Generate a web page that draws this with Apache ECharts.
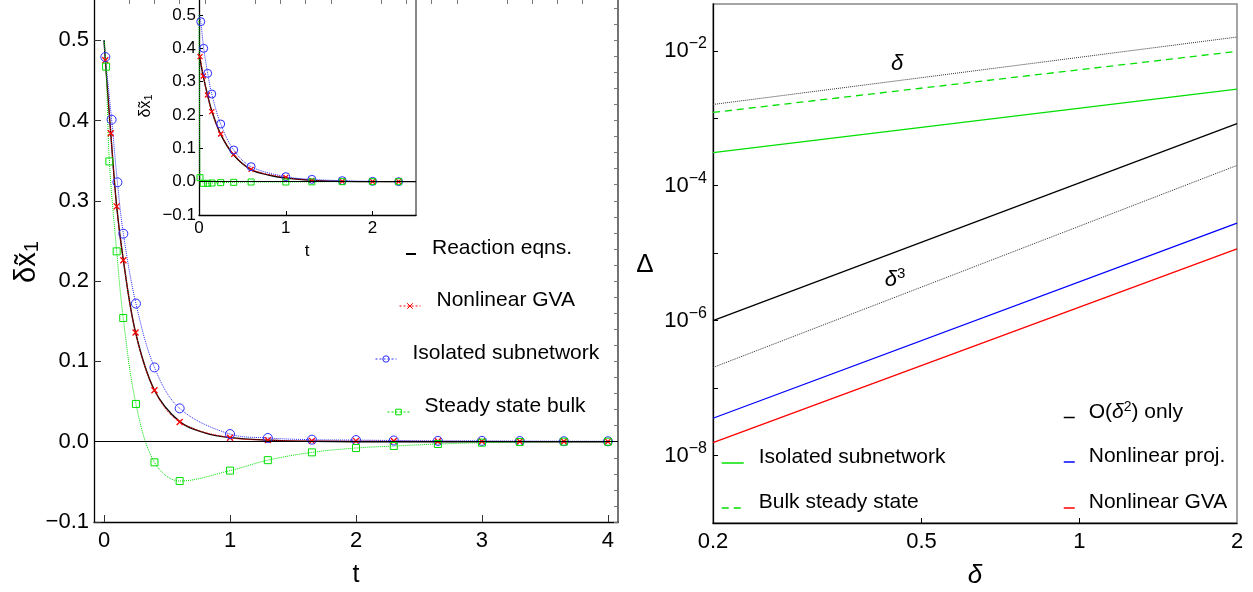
<!DOCTYPE html>
<html><head><meta charset="utf-8">
<script src="https://cdn.jsdelivr.net/npm/echarts@6/dist/echarts.min.js"></script>
<style>html,body{margin:0;padding:0;background:#fff}#c{width:1253px;height:592px}</style>
</head><body><div id="c"></div>
<script>
// ---------- Left panel (main) data ----------
const mainExactT = [0, 0.01, 0.053, 0.1, 0.153, 0.25, 0.4, 0.6, 0.8, 1.0, 1.3, 1.65, 2.0, 4.0];
const mainExactV = [0.5, 0.475, 0.384, 0.293, 0.226, 0.136, 0.064, 0.025, 0.011, 0.005, 0.002, 0.0005, 0, 0];
const mainGvaT = [0, 0.01, 0.053, 0.1, 0.153, 0.25, 0.4, 0.6, 1.0, 1.3, 1.65, 2.0, 2.3, 2.65, 3.0, 3.3, 3.65, 4.0];
const mainGvaV = [0.5, 0.475, 0.384, 0.293, 0.226, 0.136, 0.064, 0.0245, 0.005, 0.002, 0.001, 0.001, 0.0008, 0.0006, 0.0004, 0.0003, 0.0002, 0.0001];
const mainIsoT = [0, 0.01, 0.06, 0.106, 0.153, 0.253, 0.4, 0.6, 1.0, 1.3, 1.65, 2.0, 2.3, 2.65, 3.0, 3.3, 3.65, 4.0];
const mainIsoV = [0.5, 0.479, 0.401, 0.323, 0.259, 0.172, 0.0925, 0.0415, 0.0095, 0.0046, 0.0025, 0.002, 0.0015, 0.001, 0.001, 0.0008, 0.0006, 0.0005];
const mainSsT = [0, 0.016, 0.042, 0.1, 0.152, 0.253, 0.4, 0.6, 1.0, 1.3, 1.65, 2.0, 2.3, 2.65, 3.0, 3.3, 3.65, 4.0];
const mainSsV = [0.5, 0.467, 0.349, 0.237, 0.154, 0.047, -0.0257, -0.049, -0.036, -0.023, -0.0133, -0.0079, -0.0054, -0.0029, -0.0012, -0.0004, 0, 0];
const mainXTicks = [0, 1, 2, 3, 4];
const mainYTicks = [-0.1, 0, 0.1, 0.2, 0.3, 0.4, 0.5];

// ---------- Inset data ----------
const insExactT = [0, 0.05, 0.1, 0.15, 0.25, 0.4, 0.6, 0.8, 1.0, 1.3, 1.65, 2.0, 2.5];
const insExactV = [0.385, 0.315, 0.258, 0.21, 0.142, 0.08, 0.036, 0.02, 0.011, 0.004, 0.001, 0, 0];
const insGvaT = [0, 0.012, 0.05, 0.097, 0.147, 0.25, 0.4, 0.6, 1.0, 1.3, 1.65, 2.0, 2.3];
const insGvaV = [0.385, 0.375, 0.317, 0.26, 0.21, 0.143, 0.082, 0.037, 0.013, 0.004, 0.001, 0.0, 0.0];
const insIsoT = [0, 0.02, 0.054, 0.1, 0.147, 0.25, 0.4, 0.6, 1.0, 1.3, 1.65, 2.0, 2.3];
const insIsoV = [0.5, 0.48, 0.40, 0.325, 0.263, 0.173, 0.095, 0.045, 0.015, 0.007, 0.003, 0.001, 0.0];
const insSsT = [0, 0.012, 0.05, 0.1, 0.15, 0.25, 0.4, 0.6, 1.0, 1.3, 1.65, 2.0, 2.3];
const insSsV = [0.5, 0.012, -0.005, -0.005, -0.004, -0.003, -0.002, -0.001, -0.001, -0.0005, 0, 0, 0];
const insXTicks = [0, 1, 2];
const insYTicks = [-0.1, 0, 0.1, 0.2, 0.3, 0.4, 0.5];

// ---------- Right panel data (log-log, straight lines) ----------
const deltaEnds = [0.2, 2];
const refLinear = [0.0016, 0.016];     // "δ"
const bulkSteady = [1.22e-3, 9.8e-3];
const isoSub = [3.09e-4, 2.7e-3];
const o2Only = [1.0e-6, 8.3e-4];
const refCubic = [2.02e-7, 2.0e-4];    // "δ³"
const nlProj = [3.57e-8, 2.78e-5];
const nlGva = [1.55e-8, 1.16e-5];
const rightXTicks = [0.2, 0.5, 1, 2];
const rightYLabels = [1e-8, 1e-6, 1e-4, 1e-2];
const rightYTicks = [1e-9, 1e-8, 1e-7, 1e-6, 1e-5, 1e-4, 1e-3, 1e-2];

// ---------- helpers ----------
const FONT = 'Liberation Sans, Arial, sans-serif';
const RED = '#ff0000', BLUE = '#2a2aff', GREEN = '#00e000';
function build(ts, vs) { return ts.map((t, i) => t === 0 ? { value: [t, vs[i]], symbol: 'none' } : [t, vs[i]]); }
function pair(xs, ys) { return xs.map((x, i) => [x, ys[i]]); }
const fmtLin = v => (v < -1e-9 ? '\u2212' : '') + Math.abs(v).toFixed(1);
const minorMainX = []; for (let i = 1; i < 20; i++) if (i % 5) minorMainX.push(+(i * 0.2).toFixed(2));
const minorMainY = []; for (let i = -5; i <= 27; i++) if (i % 5) minorMainY.push(+(i * 0.02).toFixed(2));
const X_PATH = 'path://M0,0L10,10M10,0L0,10';
const SM = 0.35;

const zeroLine = { silent: true, symbol: 'none', label: { show: false }, lineStyle: { color: '#000', type: 'solid', width: 1 }, data: [{ yAxis: 0 }] };

function lg(name, x, iconY, w, gap, h, lineOnly, lw) {
  const o = {
    data: [name], left: x, top: iconY - 14, itemWidth: w, itemHeight: h || 10, padding: 0, selectedMode: false,
    textStyle: {
      fontSize: 21, fontFamily: FONT, color: '#000', padding: [0, 0, 11, gap - 5],
      rich: { n: { fontSize: 21, fontFamily: FONT }, i: { fontSize: 21, fontFamily: FONT, fontStyle: 'italic' }, s: { fontSize: 14, fontFamily: FONT, padding: [0, 0, 10, 0] } }
    },
    formatter: nm => nm === 'O(δ²) only' ? '{n|O(}{i|δ}{s|2}{n|) only}' : nm
  };
  if (lineOnly) { o.itemStyle = { opacity: 0 }; o.lineStyle = { width: lw || 1.5 }; }
  else { o.lineStyle = { width: 1, type: [2, 2] }; o.itemStyle = { borderWidth: 1 }; }
  return o;
}

const chart = echarts.init(document.getElementById('c'));
const option = {
  animation: false,
  backgroundColor: '#fff',
  grid: [
    { left: 94, top: 0, width: 524, height: 522 },
    { left: 199, top: 0, width: 217, height: 215 },
    { left: 713, top: 4, width: 524, height: 519, show: true, borderColor: '#888', borderWidth: 1.5 }
  ],
  xAxis: [
    { gridIndex: 0, type: 'value', min: -0.08, max: 4.08, splitLine: { show: false },
      axisLine: { show: true, onZero: false, lineStyle: { color: '#000', width: 1.3 } },
      axisTick: { show: true, inside: true, length: 7, customValues: mainXTicks, lineStyle: { color: '#333' } },
      axisLabel: { customValues: mainXTicks, fontSize: 22, fontFamily: FONT, color: '#000', margin: 8 } },
    { gridIndex: 0, type: 'value', min: -0.08, max: 4.08, splitLine: { show: false },
      axisLine: { show: false, onZero: false }, axisLabel: { show: false },
      axisTick: { show: true, inside: true, length: 4, customValues: minorMainX, lineStyle: { color: '#777' } } },
    { gridIndex: 1, type: 'value', min: 0, max: 2.5, splitLine: { show: false },
      axisLine: { show: true, onZero: false, lineStyle: { color: '#000', width: 1.3 } },
      axisTick: { show: true, inside: true, length: 4, customValues: insXTicks },
      axisLabel: { customValues: insXTicks, fontSize: 17, fontFamily: FONT, color: '#000', margin: 5 } },
    { gridIndex: 2, type: 'log', logBase: 10, min: 0.2, max: 2, splitLine: { show: false },
      axisLine: { show: true, onZero: false, lineStyle: { color: '#000', width: 1.3 } },
      axisTick: { show: true, inside: true, length: 5, customValues: [0.5, 1] },
      axisLabel: { customValues: rightXTicks, fontSize: 22, fontFamily: FONT, color: '#000', margin: 8,
        formatter: v => String(Math.round(v * 10) / 10) } }
  ],
  yAxis: [
    { gridIndex: 0, type: 'value', min: -0.1, max: 0.55, splitLine: { show: false },
      axisLine: { show: true, onZero: false, lineStyle: { color: '#000', width: 1.3 } },
      axisTick: { show: true, inside: true, length: 7, customValues: mainYTicks, lineStyle: { color: '#333' } },
      axisLabel: { customValues: mainYTicks, fontSize: 22, fontFamily: FONT, color: '#000', margin: 5, formatter: fmtLin } },
    { gridIndex: 0, type: 'value', min: -0.1, max: 0.55, splitLine: { show: false },
      axisLine: { show: false, onZero: false }, axisLabel: { show: false },
      axisTick: { show: true, inside: true, length: 4, customValues: minorMainY, lineStyle: { color: '#777' } } },
    { gridIndex: 0, type: 'value', position: 'right', min: -0.1, max: 0.55, splitLine: { show: false },
      axisLine: { show: true, onZero: false, lineStyle: { color: '#666', width: 1.8 } }, axisLabel: { show: false },
      axisTick: { show: true, inside: true, length: 4, customValues: mainYTicks.concat(minorMainY), lineStyle: { color: '#777' } } },
    { gridIndex: 1, type: 'value', min: -0.1, max: 0.545, splitLine: { show: false },
      axisLine: { show: true, onZero: false, lineStyle: { color: '#000', width: 1.3 } },
      axisTick: { show: true, inside: true, length: 4, customValues: insYTicks },
      axisLabel: { customValues: insYTicks, fontSize: 17, fontFamily: FONT, color: '#000', margin: 3, formatter: fmtLin } },
    { gridIndex: 1, type: 'value', position: 'right', min: -0.1, max: 0.545, splitLine: { show: false },
      axisLine: { show: true, onZero: false, lineStyle: { color: '#888', width: 2 } }, axisLabel: { show: false }, axisTick: { show: false } },
    { gridIndex: 2, type: 'log', logBase: 10, min: 1e-9, max: 0.0494, splitLine: { show: false },
      axisLine: { show: true, onZero: false, lineStyle: { color: '#000', width: 1.3 } },
      axisTick: { show: true, inside: true, length: 5, customValues: rightYTicks },
      axisLabel: { customValues: rightYLabels, color: '#000', margin: 6,
        formatter: v => '{b|10}{s|\u2212' + Math.abs(Math.round(Math.log10(v))) + '}',
        rich: { b: { fontSize: 22, fontFamily: FONT }, s: { fontSize: 16, fontFamily: FONT, padding: [0, 0, 14, 0] } } } }
  ],
  legend: [
    lg('Reaction eqns.', 405, 252, 10, 16, 10, true, 2),
    lg('Nonlinear GVA', 399, 304, 21, 16, 7),
    lg('Isolated subnetwork', 375, 357, 21, 16, 8),
    lg('Steady state bulk', 387, 410, 22, 15, 7),
    lg('O(δ²) only', 1063, 414, 11, 14, 10, true),
    lg('Nonlinear proj.', 1063, 460, 11, 14, 10, true),
    lg('Nonlinear GVA ', 1063, 506, 11, 14, 10, true),
    lg('Isolated subnetwork ', 721, 461, 22, 15, 10, true),
    lg('Bulk steady state', 721, 506, 22, 15, 10, true)
  ],
  series: [
    // main
    { name: 'Reaction eqns.', type: 'line', xAxisIndex: 0, yAxisIndex: 0, data: build(mainExactT, mainExactV), smooth: SM,
      symbol: 'none', lineStyle: { color: '#000', width: 1.4 }, itemStyle: { color: '#000' }, markLine: zeroLine, z: 2 },
    { name: 'Nonlinear GVA', type: 'line', xAxisIndex: 0, yAxisIndex: 0, data: build(mainGvaT, mainGvaV), smooth: SM,
      symbol: X_PATH, symbolSize: 6, lineStyle: { color: RED, width: 1, type: 'dotted' }, itemStyle: { color: RED, borderColor: RED, borderWidth: 1.3 }, z: 3 },
    { name: 'Isolated subnetwork', type: 'line', xAxisIndex: 0, yAxisIndex: 0, data: build(mainIsoT, mainIsoV), smooth: SM,
      symbol: 'circle', symbolSize: 9, lineStyle: { color: BLUE, width: 1, type: 'dotted' }, itemStyle: { color: 'rgba(0,0,0,0)', borderColor: BLUE, borderWidth: 1 }, z: 3 },
    { name: 'Steady state bulk', type: 'line', xAxisIndex: 0, yAxisIndex: 0, data: build(mainSsT, mainSsV), smooth: SM,
      symbol: 'rect', symbolSize: 7, lineStyle: { color: GREEN, width: 1, type: 'dotted' }, itemStyle: { color: 'rgba(0,0,0,0)', borderColor: GREEN, borderWidth: 1 }, z: 3 },
    // inset
    { name: 'inset exact', type: 'line', xAxisIndex: 2, yAxisIndex: 3, data: build(insExactT, insExactV), smooth: SM,
      symbol: 'none', lineStyle: { color: '#000', width: 1.4 }, markLine: zeroLine, z: 2 },
    { name: 'inset gva', type: 'line', xAxisIndex: 2, yAxisIndex: 3, data: build(insGvaT, insGvaV), smooth: SM,
      symbol: X_PATH, symbolSize: 5, lineStyle: { color: RED, width: 1, type: 'dotted' }, itemStyle: { color: RED, borderColor: RED, borderWidth: 1.2 }, z: 3 },
    { name: 'inset iso', type: 'line', xAxisIndex: 2, yAxisIndex: 3, data: build(insIsoT, insIsoV), smooth: SM,
      symbol: 'circle', symbolSize: 8, lineStyle: { color: BLUE, width: 1, type: 'dotted' }, itemStyle: { color: 'rgba(0,0,0,0)', borderColor: BLUE, borderWidth: 1 }, z: 3 },
    { name: 'inset ss', type: 'line', xAxisIndex: 2, yAxisIndex: 3, data: build(insSsT, insSsV), smooth: 0.2, smoothMonotone: 'x',
      symbol: 'rect', symbolSize: 6, lineStyle: { color: GREEN, width: 1, type: 'dotted' }, itemStyle: { color: 'rgba(0,0,0,0)', borderColor: GREEN, borderWidth: 1 }, z: 3 },
    // right panel
    { name: 'δ ref', type: 'line', xAxisIndex: 3, yAxisIndex: 5, data: pair(deltaEnds, refLinear), symbol: 'none', lineStyle: { color: '#333', width: 1, type: 'dotted' } },
    { name: 'Bulk steady state', type: 'line', xAxisIndex: 3, yAxisIndex: 5, data: pair(deltaEnds, bulkSteady), symbol: 'none', lineStyle: { color: GREEN, width: 1.3, type: [7, 5] }, itemStyle: { color: GREEN } },
    { name: 'Isolated subnetwork ', type: 'line', xAxisIndex: 3, yAxisIndex: 5, data: pair(deltaEnds, isoSub), symbol: 'none', lineStyle: { color: GREEN, width: 1.3 }, itemStyle: { color: GREEN } },
    { name: 'O(δ²) only', type: 'line', xAxisIndex: 3, yAxisIndex: 5, data: pair(deltaEnds, o2Only), symbol: 'none', lineStyle: { color: '#000', width: 1.3 }, itemStyle: { color: '#000' } },
    { name: 'δ³ ref', type: 'line', xAxisIndex: 3, yAxisIndex: 5, data: pair(deltaEnds, refCubic), symbol: 'none', lineStyle: { color: '#333', width: 1, type: 'dotted' } },
    { name: 'Nonlinear proj.', type: 'line', xAxisIndex: 3, yAxisIndex: 5, data: pair(deltaEnds, nlProj), symbol: 'none', lineStyle: { color: '#0000ff', width: 1.3 }, itemStyle: { color: '#0000ff' } },
    { name: 'Nonlinear GVA ', type: 'line', xAxisIndex: 3, yAxisIndex: 5, data: pair(deltaEnds, nlGva), symbol: 'none', lineStyle: { color: RED, width: 1.3 }, itemStyle: { color: RED } }
  ],
  graphic: [
    { type: 'text', x: 27, y: 262, rotation: Math.PI / 2, style: { text: '{a|δx̃}{b|1}', align: 'center', verticalAlign: 'middle', fill: '#000',
      rich: { a: { fontSize: 29, fontFamily: FONT }, b: { fontSize: 20, fontFamily: FONT, padding: [11, 0, 0, 0] } } } },
    { type: 'text', x: 356, y: 575, style: { text: 't', fontSize: 25, fontFamily: FONT, fill: '#000', align: 'center', verticalAlign: 'middle' } },
    { type: 'text', x: 146, y: 106, rotation: Math.PI / 2, style: { text: '{a|δx̃}{b|1}', align: 'center', verticalAlign: 'middle', fill: '#000',
      rich: { a: { fontSize: 16, fontFamily: FONT }, b: { fontSize: 11, fontFamily: FONT, padding: [6, 0, 0, 0] } } } },
    { type: 'text', x: 307, y: 251, style: { text: 't', fontSize: 17, fontFamily: FONT, fill: '#000', align: 'center', verticalAlign: 'middle' } },
    { type: 'text', x: 645, y: 265, style: { text: 'Δ', fontSize: 26, fontFamily: FONT, fill: '#000', align: 'center', verticalAlign: 'middle' } },
    { type: 'text', x: 975, y: 576, style: { text: 'δ', fontSize: 26, fontStyle: 'italic', fontFamily: FONT, fill: '#000', align: 'center', verticalAlign: 'middle' } },
    { type: 'text', x: 897, y: 64, style: { text: 'δ', fontSize: 22, fontStyle: 'italic', fontFamily: FONT, fill: '#000', align: 'center', verticalAlign: 'middle' } },
    { type: 'text', x: 895, y: 280, style: { text: '{i|δ}{s|3}', align: 'center', verticalAlign: 'middle', fill: '#000',
      rich: { i: { fontSize: 22, fontStyle: 'italic', fontFamily: FONT }, s: { fontSize: 15, fontFamily: FONT, padding: [0, 0, 12, 0] } } } }
  ]
};
chart.setOption(option);
</script>
</body></html>
